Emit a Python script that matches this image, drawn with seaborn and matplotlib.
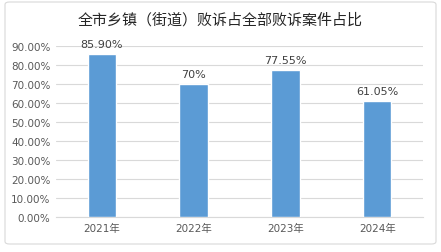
import matplotlib
matplotlib.use("Agg")
import matplotlib.pyplot as plt
import seaborn as sns
import pandas as pd
from matplotlib.patches import FancyBboxPatch
from matplotlib.ticker import FuncFormatter, MultipleLocator

years = ["2021年", "2022年", "2023年", "2024年"]
values = [85.90, 70.0, 77.55, 61.05]
labels = ["85.90%", "70%", "77.55%", "61.05%"]
title = "全市乡镇（街道）败诉占全部败诉案件占比"

sns.set_theme(style="white")
plt.rcParams['font.family'] = ['DejaVu Sans', 'Noto Sans CJK SC']

fig = plt.figure(figsize=(4.41, 2.53), dpi=100)
ax = fig.add_axes([56/441, 1-218/253, (423-56)/441, (218-47)/253])

df = pd.DataFrame({"year": years, "value": values})
sns.barplot(data=df, x="year", y="value", color="#5B9BD5", width=0.31,
            saturation=1, ax=ax, zorder=3)

ax.set_ylim(0, 90)
ax.yaxis.set_major_locator(MultipleLocator(10))
ax.yaxis.set_major_formatter(FuncFormatter(lambda v, p: f"{v:.2f}%"))
ax.grid(axis="y", color="#D9D9D9", linewidth=0.8, zorder=0)
ax.set_axisbelow(True)
for s in ["top", "right", "left"]:
    ax.spines[s].set_visible(False)
ax.spines["bottom"].set_color("#D9D9D9")
ax.spines["bottom"].set_linewidth(0.8)
ax.set_xlabel("")
ax.set_ylabel("")
ax.tick_params(axis="both", length=0, labelsize=7.5, colors="#595959", pad=4)
ax.set_xlim(-0.5, 3.5)

for i, (v, lab) in enumerate(zip(values, labels)):
    ax.text(i, v + 2.5, lab, ha="center", va="bottom", fontsize=8, color="#404040")

fig.text(0.5, 1-20/253, title, ha="center", va="center", fontsize=10.8,
         color="#262626", family=['Noto Sans CJK SC', 'DejaVu Sans'], weight="medium")

border = FancyBboxPatch((5/441, 8/253), 431/441, 242/253,
                        boxstyle="round,pad=0,rounding_size=0.01",
                        transform=fig.transFigure, fill=False,
                        edgecolor="#D9D9D9", linewidth=0.8)
fig.patches.append(border)

fig.savefig("out.png", dpi=100)
